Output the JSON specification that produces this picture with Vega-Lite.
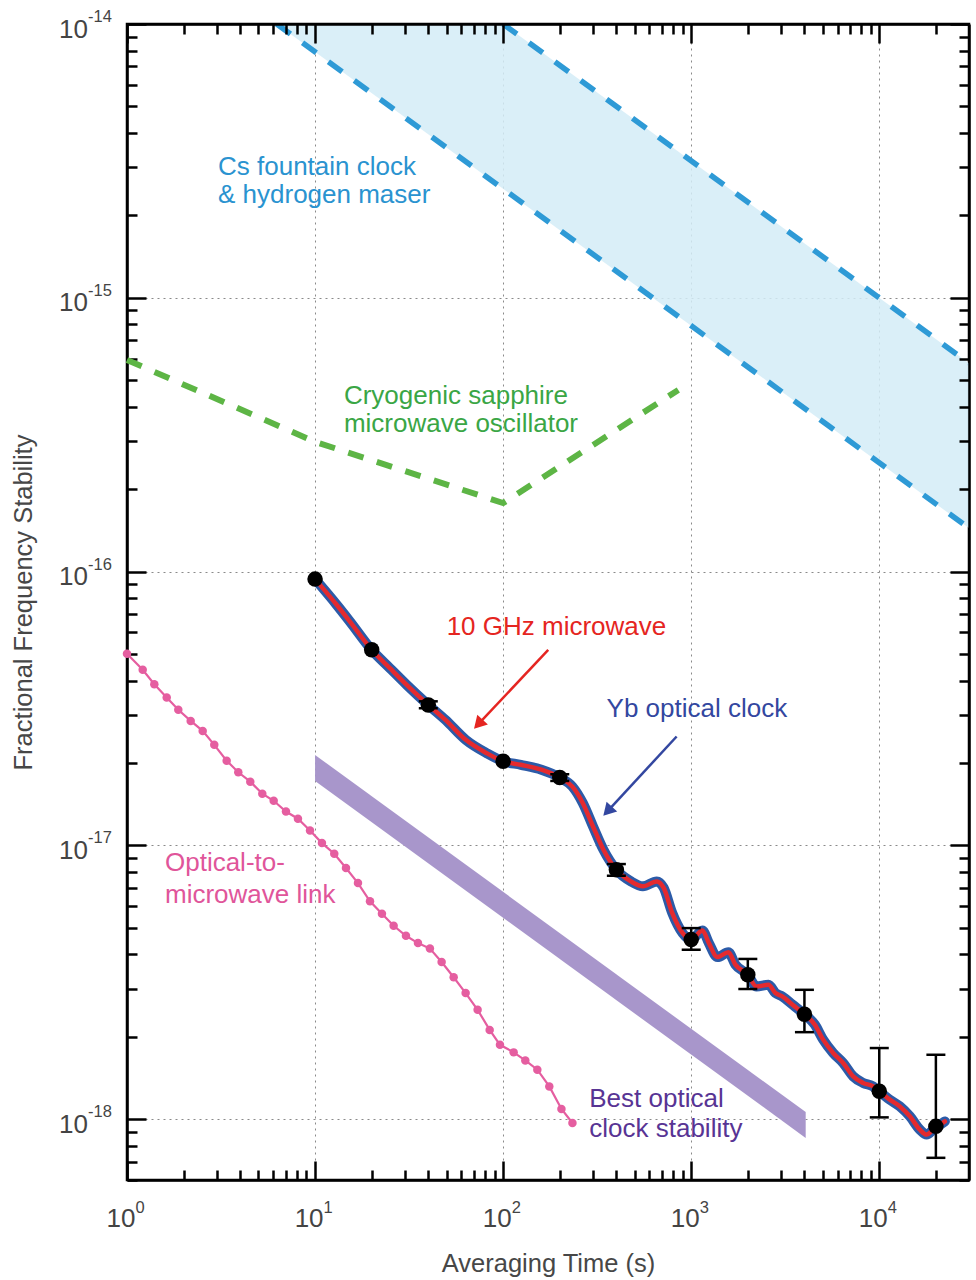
{
  "$schema": "https://vega.github.io/schema/vega-lite/v6.json",
  "width": 842,
  "height": 1156,
  "autosize": {"type": "none"},
  "padding": {"left": 127, "top": 24, "right": 7, "bottom": 100},
  "background": "white",
  "config": {
    "font": "Liberation Sans",
    "view": {"stroke": "black", "strokeWidth": 2.5},
    "axis": {"labels": false, "tickWidth": 2.5, "tickColor": "black", "domainColor": "black", "domainWidth": 2.5}
  },
  "resolve": {"axis": {"x": "independent", "y": "independent"}},
  "datasets": {
    "cs": [
      {"tau": 6.25, "lo": 1e-14, "hi": 1e-14},
      {"tau": 100, "lo": 2.5e-15, "hi": 1e-14},
      {"tau": 30000, "lo": 1.443e-16, "hi": 5.774e-16}
    ],
    "csl": [
      {"k": "lo", "tau": 6.25, "s": 1e-14},
      {"k": "lo", "tau": 30000, "s": 1.443e-16},
      {"k": "hi", "tau": 100, "s": 1e-14},
      {"k": "hi", "tau": 30000, "s": 5.774e-16}
    ],
    "green": [
      {"tau": 1, "s": 5.93e-16},
      {"tau": 10, "s": 2.98e-16},
      {"tau": 100, "s": 1.78e-16},
      {"tau": 854, "s": 4.61e-16}
    ],
    "purple": [
      {"tau": 10, "lo": 1.72e-17, "hi": 2.14e-17},
      {"tau": 4061, "lo": 8.55e-19, "hi": 1.062e-18}
    ],
    "pink": [
      {"tau": 1, "s": 5.01e-17}, {"tau": 1.212, "s": 4.38e-17}, {"tau": 1.397, "s": 3.88e-17},
      {"tau": 1.626, "s": 3.47e-17}, {"tau": 1.874, "s": 3.13e-17}, {"tau": 2.181, "s": 2.85e-17},
      {"tau": 2.526, "s": 2.62e-17}, {"tau": 2.911, "s": 2.33e-17}, {"tau": 3.388, "s": 2.04e-17},
      {"tau": 3.906, "s": 1.85e-17}, {"tau": 4.524, "s": 1.71e-17}, {"tau": 5.241, "s": 1.545e-17},
      {"tau": 6.025, "s": 1.456e-17}, {"tau": 7.003, "s": 1.33e-17}, {"tau": 8.11, "s": 1.252e-17},
      {"tau": 9.4, "s": 1.134e-17}, {"tau": 10.88, "s": 1.02e-17}, {"tau": 12.65, "s": 9.33e-18},
      {"tau": 14.6, "s": 8.27e-18}, {"tau": 16.91, "s": 7.29e-18}, {"tau": 19.59, "s": 6.25e-18},
      {"tau": 22.68, "s": 5.63e-18}, {"tau": 26.17, "s": 5.09e-18}, {"tau": 30.43, "s": 4.68e-18},
      {"tau": 35.25, "s": 4.4e-18}, {"tau": 40.81, "s": 4.2e-18}, {"tau": 47.1, "s": 3.75e-18},
      {"tau": 54.57, "s": 3.3e-18}, {"tau": 63.19, "s": 2.89e-18}, {"tau": 73.17, "s": 2.51e-18},
      {"tau": 84.8, "s": 2.12e-18}, {"tau": 96.2, "s": 1.87e-18}, {"tau": 113.7, "s": 1.755e-18},
      {"tau": 131.2, "s": 1.64e-18}, {"tau": 152, "s": 1.517e-18}, {"tau": 176, "s": 1.318e-18},
      {"tau": 204.2, "s": 1.09e-18}, {"tau": 233.6, "s": 9.69e-19}
    ],
    "curve": [
      {"tau": 10, "s": 9.39e-17}, {"tau": 13.02, "s": 7.57e-17}, {"tau": 15.33, "s": 6.57e-17},
      {"tau": 20, "s": 5.18e-17}, {"tau": 25, "s": 4.44e-17}, {"tau": 30.7, "s": 3.86e-17},
      {"tau": 40, "s": 3.26e-17}, {"tau": 49.2, "s": 2.88e-17}, {"tau": 63.3, "s": 2.43e-17},
      {"tau": 81.5, "s": 2.175e-17}, {"tau": 100, "s": 2.03e-17}, {"tau": 124.2, "s": 1.97e-17},
      {"tau": 159.8, "s": 1.89e-17}, {"tau": 200, "s": 1.77e-17}, {"tau": 233.6, "s": 1.64e-17},
      {"tau": 265, "s": 1.43e-17}, {"tau": 300.6, "s": 1.173e-17}, {"tau": 341.5, "s": 9.645e-18},
      {"tau": 400, "s": 8.15e-18}, {"tau": 478, "s": 7.39e-18}, {"tau": 553.5, "s": 7.09e-18},
      {"tau": 655.6, "s": 7.39e-18}, {"tau": 713.3, "s": 7.01e-18}, {"tau": 792.5, "s": 5.67e-18},
      {"tau": 899, "s": 4.79e-18}, {"tau": 1000, "s": 4.525e-18}, {"tau": 1147, "s": 4.89e-18},
      {"tau": 1242, "s": 4.4e-18}, {"tau": 1378, "s": 3.91e-18}, {"tau": 1577, "s": 4.07e-18},
      {"tau": 1718, "s": 3.67e-18}, {"tau": 2000, "s": 3.37e-18}, {"tau": 2224, "s": 3.055e-18},
      {"tau": 2576, "s": 3.1e-18}, {"tau": 2803, "s": 2.89e-18}, {"tau": 3050, "s": 2.81e-18},
      {"tau": 3460, "s": 2.62e-18}, {"tau": 4000, "s": 2.42e-18}, {"tau": 4546, "s": 2.215e-18},
      {"tau": 5031, "s": 1.953e-18}, {"tau": 5687, "s": 1.747e-18}, {"tau": 6429, "s": 1.605e-18},
      {"tau": 7264, "s": 1.434e-18}, {"tau": 8212, "s": 1.357e-18}, {"tau": 9282, "s": 1.318e-18},
      {"tau": 10000, "s": 1.264e-18}, {"tau": 11385, "s": 1.179e-18}, {"tau": 12870, "s": 1.114e-18},
      {"tau": 14545, "s": 1.025e-18}, {"tau": 16440, "s": 9.16e-19}, {"tau": 17850, "s": 8.79e-19},
      {"tau": 19350, "s": 9.16e-19}, {"tau": 22330, "s": 9.82e-19}
    ],
    "pts": [
      {"tau": 10, "s": 9.39e-17}, {"tau": 20, "s": 5.18e-17}, {"tau": 40, "s": 3.26e-17},
      {"tau": 100, "s": 2.03e-17}, {"tau": 200, "s": 1.77e-17}, {"tau": 400, "s": 8.15e-18},
      {"tau": 1000, "s": 4.53e-18}, {"tau": 2000, "s": 3.37e-18}, {"tau": 4000, "s": 2.42e-18},
      {"tau": 10000, "s": 1.265e-18}, {"tau": 20000, "s": 9.42e-19}
    ],
    "errs": [
      {"tau": 40, "lo": 3.17e-17, "hi": 3.36e-17},
      {"tau": 200, "lo": 1.72e-17, "hi": 1.82e-17},
      {"tau": 400, "lo": 7.75e-18, "hi": 8.55e-18},
      {"tau": 1000, "lo": 4.16e-18, "hi": 4.99e-18},
      {"tau": 2000, "lo": 2.99e-18, "hi": 3.85e-18},
      {"tau": 4000, "lo": 2.08e-18, "hi": 2.97e-18},
      {"tau": 10000, "lo": 1.016e-18, "hi": 1.82e-18},
      {"tau": 20000, "lo": 7.23e-19, "hi": 1.72e-18}
    ],
    "arrows": [
      {"who": "mw", "tau": 173.7, "s": 5.18e-17, "tau2": 75.1, "s2": 2.807e-17},
      {"who": "yb", "tau": 836.5, "s": 2.5e-17, "tau2": 365.6, "s2": 1.351e-17}
    ],
    "texts": [
      {"who": "cs", "tau": 3.047, "s": 2.81e-15, "t": "Cs fountain clock"},
      {"who": "cs", "tau": 3.047, "s": 2.221e-15, "t": "& hydrogen maser"},
      {"who": "cryo", "tau": 14.24, "s": 4.1e-16, "t": "Cryogenic sapphire"},
      {"who": "cryo", "tau": 14.24, "s": 3.239e-16, "t": "microwave oscillator"},
      {"who": "mw", "tau": 50.08, "s": 5.88e-17, "t": "10 GHz microwave"},
      {"who": "yb", "tau": 354.9, "s": 2.942e-17, "t": "Yb optical clock"},
      {"who": "link", "tau": 1.592, "s": 8.04e-18, "t": "Optical-to-"},
      {"who": "link", "tau": 1.592, "s": 6.16e-18, "t": "microwave link"},
      {"who": "best", "tau": 287, "s": 1.109e-18, "t": "Best optical"},
      {"who": "best", "tau": 287, "s": 8.62e-19, "t": "clock stability"}
    ],
    "ylab": [
      {"v": 1e-14, "e": "-14"}, {"v": 1e-15, "e": "-15"}, {"v": 1e-16, "e": "-16"},
      {"v": 1e-17, "e": "-17"}, {"v": 1e-18, "e": "-18"}
    ],
    "xlab": [
      {"v": 1, "e": "0"}, {"v": 10, "e": "1"}, {"v": 100, "e": "2"},
      {"v": 1000, "e": "3"}, {"v": 10000, "e": "4"}
    ]
  },
  "layer": [
    {
      "data": {"name": "cs"},
      "mark": {"type": "area", "color": "#d3ecf7", "opacity": 0.85, "clip": true},
      "encoding": {
        "x": {"field": "tau", "type": "quantitative", "scale": {"type": "log", "domain": [1, 30000]},
          "axis": {"orient": "bottom", "title": "Averaging Time (s)", "titleFontSize": 25.5, "titleFontWeight": "normal", "titleColor": "#474747", "titlePadding": 70,
            "values": [1,2,3,4,5,6,7,8,9,10,20,30,40,50,60,70,80,90,100,200,300,400,500,600,700,800,900,1000,2000,3000,4000,5000,6000,7000,8000,9000,10000,20000],
            "grid": true, "gridColor": "#8a8a8a", "gridDash": [2, 4], "gridWidth": 1,
            "gridOpacity": {"condition": {"test": "abs(log(datum.value)/LN10 - round(log(datum.value)/LN10)) < 0.01", "value": 1}, "value": 0},
            "tickSize": {"condition": {"test": "abs(log(datum.value)/LN10 - round(log(datum.value)/LN10)) < 0.01", "value": -19}, "value": -10}}},
        "y": {"field": "lo", "type": "quantitative", "scale": {"type": "log", "domain": [6e-19, 1e-14]},
          "axis": {"orient": "left", "title": "Fractional Frequency Stability", "titleFontSize": 25.5, "titleFontWeight": "normal", "titleColor": "#474747", "titlePadding": 89,
            "values": [6e-19,7e-19,8e-19,9e-19,1e-18,2e-18,3e-18,4e-18,5e-18,6e-18,7e-18,8e-18,9e-18,1e-17,2e-17,3e-17,4e-17,5e-17,6e-17,7e-17,8e-17,9e-17,1e-16,2e-16,3e-16,4e-16,5e-16,6e-16,7e-16,8e-16,9e-16,1e-15,2e-15,3e-15,4e-15,5e-15,6e-15,7e-15,8e-15,9e-15,1e-14],
            "grid": true, "gridColor": "#8a8a8a", "gridDash": [2, 4], "gridWidth": 1,
            "gridOpacity": {"condition": {"test": "abs(log(datum.value)/LN10 - round(log(datum.value)/LN10)) < 0.01", "value": 1}, "value": 0},
            "tickSize": {"condition": {"test": "abs(log(datum.value)/LN10 - round(log(datum.value)/LN10)) < 0.01", "value": -19}, "value": -10}}},
        "y2": {"field": "hi"}
      }
    },
    {
      "data": {"name": "csl"},
      "mark": {"type": "line", "color": "#2e9ad6", "strokeWidth": 5.5, "strokeDash": [17, 15], "clip": true},
      "encoding": {
        "x": {"field": "tau", "type": "quantitative", "scale": {"type": "log", "domain": [1, 30000]},
          "axis": {"orient": "top", "title": null, "grid": false, "zindex": 1,
            "values": [1,2,3,4,5,6,7,8,9,10,20,30,40,50,60,70,80,90,100,200,300,400,500,600,700,800,900,1000,2000,3000,4000,5000,6000,7000,8000,9000,10000,20000],
            "tickSize": {"condition": {"test": "abs(log(datum.value)/LN10 - round(log(datum.value)/LN10)) < 0.01", "value": -19}, "value": -10}}},
        "y": {"field": "s", "type": "quantitative", "scale": {"type": "log", "domain": [6e-19, 1e-14]},
          "axis": {"orient": "right", "title": null, "grid": false, "zindex": 1,
            "values": [6e-19,7e-19,8e-19,9e-19,1e-18,2e-18,3e-18,4e-18,5e-18,6e-18,7e-18,8e-18,9e-18,1e-17,2e-17,3e-17,4e-17,5e-17,6e-17,7e-17,8e-17,9e-17,1e-16,2e-16,3e-16,4e-16,5e-16,6e-16,7e-16,8e-16,9e-16,1e-15,2e-15,3e-15,4e-15,5e-15,6e-15,7e-15,8e-15,9e-15,1e-14],
            "tickSize": {"condition": {"test": "abs(log(datum.value)/LN10 - round(log(datum.value)/LN10)) < 0.01", "value": -19}, "value": -10}}},
        "detail": {"field": "k"}
      }
    },
    {
      "data": {"name": "green"},
      "mark": {"type": "line", "color": "#5db545", "strokeWidth": 6, "strokeDash": [16, 14]},
      "encoding": {
        "x": {"field": "tau", "type": "quantitative", "scale": {"type": "log", "domain": [1, 30000]}, "axis": null},
        "y": {"field": "s", "type": "quantitative", "scale": {"type": "log", "domain": [6e-19, 1e-14]}, "axis": null}
      }
    },
    {
      "data": {"name": "purple"},
      "mark": {"type": "area", "color": "#a896cb", "opacity": 1},
      "encoding": {
        "x": {"field": "tau", "type": "quantitative", "scale": {"type": "log", "domain": [1, 30000]}, "axis": null},
        "y": {"field": "lo", "type": "quantitative", "scale": {"type": "log", "domain": [6e-19, 1e-14]}, "axis": null},
        "y2": {"field": "hi"}
      }
    },
    {
      "data": {"name": "pink"},
      "mark": {"type": "line", "color": "#e55ea0", "strokeWidth": 2.2},
      "encoding": {
        "x": {"field": "tau", "type": "quantitative", "scale": {"type": "log", "domain": [1, 30000]}, "axis": null},
        "y": {"field": "s", "type": "quantitative", "scale": {"type": "log", "domain": [6e-19, 1e-14]}, "axis": null}
      }
    },
    {
      "data": {"name": "pink"},
      "mark": {"type": "point", "filled": true, "color": "#e55ea0", "size": 72, "opacity": 1},
      "encoding": {
        "x": {"field": "tau", "type": "quantitative", "scale": {"type": "log", "domain": [1, 30000]}, "axis": null},
        "y": {"field": "s", "type": "quantitative", "scale": {"type": "log", "domain": [6e-19, 1e-14]}, "axis": null}
      }
    },
    {
      "data": {"name": "curve"},
      "mark": {"type": "line", "color": "#2c5ba8", "strokeWidth": 10, "interpolate": "monotone", "strokeCap": "round"},
      "encoding": {
        "x": {"field": "tau", "type": "quantitative", "scale": {"type": "log", "domain": [1, 30000]}, "axis": null},
        "y": {"field": "s", "type": "quantitative", "scale": {"type": "log", "domain": [6e-19, 1e-14]}, "axis": null}
      }
    },
    {
      "data": {"name": "curve"},
      "mark": {"type": "line", "color": "#e42a2e", "strokeWidth": 4.5, "interpolate": "monotone", "strokeCap": "round"},
      "encoding": {
        "x": {"field": "tau", "type": "quantitative", "scale": {"type": "log", "domain": [1, 30000]}, "axis": null},
        "y": {"field": "s", "type": "quantitative", "scale": {"type": "log", "domain": [6e-19, 1e-14]}, "axis": null}
      }
    },
    {
      "data": {"name": "errs"},
      "mark": {"type": "rule", "color": "black", "strokeWidth": 2.5},
      "encoding": {
        "x": {"field": "tau", "type": "quantitative", "scale": {"type": "log", "domain": [1, 30000]}, "axis": null},
        "y": {"field": "lo", "type": "quantitative", "scale": {"type": "log", "domain": [6e-19, 1e-14]}, "axis": null},
        "y2": {"field": "hi"}
      }
    },
    {
      "data": {"name": "errs"},
      "mark": {"type": "tick", "color": "black", "orient": "horizontal", "size": 19, "thickness": 2.5, "opacity": 1},
      "encoding": {
        "x": {"field": "tau", "type": "quantitative", "scale": {"type": "log", "domain": [1, 30000]}, "axis": null},
        "y": {"field": "lo", "type": "quantitative", "scale": {"type": "log", "domain": [6e-19, 1e-14]}, "axis": null}
      }
    },
    {
      "data": {"name": "errs"},
      "mark": {"type": "tick", "color": "black", "orient": "horizontal", "size": 19, "thickness": 2.5, "opacity": 1},
      "encoding": {
        "x": {"field": "tau", "type": "quantitative", "scale": {"type": "log", "domain": [1, 30000]}, "axis": null},
        "y": {"field": "hi", "type": "quantitative", "scale": {"type": "log", "domain": [6e-19, 1e-14]}, "axis": null}
      }
    },
    {
      "data": {"name": "pts"},
      "mark": {"type": "point", "filled": true, "color": "black", "size": 240, "opacity": 1},
      "encoding": {
        "x": {"field": "tau", "type": "quantitative", "scale": {"type": "log", "domain": [1, 30000]}, "axis": null},
        "y": {"field": "s", "type": "quantitative", "scale": {"type": "log", "domain": [6e-19, 1e-14]}, "axis": null}
      }
    },
    {
      "data": {"name": "arrows"},
      "mark": {"type": "rule", "strokeWidth": 2.5},
      "encoding": {
        "x": {"field": "tau", "type": "quantitative", "scale": {"type": "log", "domain": [1, 30000]}, "axis": null},
        "y": {"field": "s", "type": "quantitative", "scale": {"type": "log", "domain": [6e-19, 1e-14]}, "axis": null},
        "x2": {"field": "tau2"},
        "y2": {"field": "s2"},
        "color": {"field": "who", "type": "nominal", "legend": null,
          "scale": {"domain": ["cs", "cryo", "mw", "yb", "link", "best"], "range": ["#2a93d0", "#3aa645", "#e52521", "#3347a0", "#e0559a", "#583494"]}}
      }
    },
    {
      "data": {"name": "arrows"},
      "mark": {"type": "point", "shape": "triangle", "filled": true, "size": 210, "angle": 223, "opacity": 1},
      "encoding": {
        "x": {"field": "tau2", "type": "quantitative", "scale": {"type": "log", "domain": [1, 30000]}, "axis": null},
        "y": {"field": "s2", "type": "quantitative", "scale": {"type": "log", "domain": [6e-19, 1e-14]}, "axis": null},
        "color": {"field": "who", "type": "nominal", "legend": null,
          "scale": {"domain": ["cs", "cryo", "mw", "yb", "link", "best"], "range": ["#2a93d0", "#3aa645", "#e52521", "#3347a0", "#e0559a", "#583494"]}}
      }
    },
    {
      "data": {"name": "texts"},
      "mark": {"type": "text", "align": "left", "baseline": "alphabetic", "fontSize": 26},
      "encoding": {
        "x": {"field": "tau", "type": "quantitative", "scale": {"type": "log", "domain": [1, 30000]}, "axis": null},
        "y": {"field": "s", "type": "quantitative", "scale": {"type": "log", "domain": [6e-19, 1e-14]}, "axis": null},
        "text": {"field": "t"},
        "color": {"field": "who", "type": "nominal", "legend": null,
          "scale": {"domain": ["cs", "cryo", "mw", "yb", "link", "best"], "range": ["#2a93d0", "#3aa645", "#e52521", "#3347a0", "#e0559a", "#583494"]}}
      }
    },
    {
      "data": {"name": "ylab"},
      "mark": {"type": "text", "align": "right", "baseline": "alphabetic", "fontSize": 26, "dx": -39, "dy": 13.5, "color": "#444444"},
      "encoding": {
        "x": {"datum": 1, "type": "quantitative", "scale": {"type": "log", "domain": [1, 30000]}, "axis": null},
        "y": {"field": "v", "type": "quantitative", "scale": {"type": "log", "domain": [6e-19, 1e-14]}, "axis": null},
        "text": {"value": "10"}
      }
    },
    {
      "data": {"name": "ylab"},
      "mark": {"type": "text", "align": "left", "baseline": "alphabetic", "fontSize": 16.5, "dx": -39, "dy": -2, "color": "#444444"},
      "encoding": {
        "x": {"datum": 1, "type": "quantitative", "scale": {"type": "log", "domain": [1, 30000]}, "axis": null},
        "y": {"field": "v", "type": "quantitative", "scale": {"type": "log", "domain": [6e-19, 1e-14]}, "axis": null},
        "text": {"field": "e"}
      }
    },
    {
      "data": {"name": "xlab"},
      "mark": {"type": "text", "align": "right", "baseline": "alphabetic", "fontSize": 26, "dx": 8.5, "dy": 46.7, "color": "#444444"},
      "encoding": {
        "x": {"field": "v", "type": "quantitative", "scale": {"type": "log", "domain": [1, 30000]}, "axis": null},
        "y": {"datum": 6e-19, "type": "quantitative", "scale": {"type": "log", "domain": [6e-19, 1e-14]}, "axis": null},
        "text": {"value": "10"}
      }
    },
    {
      "data": {"name": "xlab"},
      "mark": {"type": "text", "align": "left", "baseline": "alphabetic", "fontSize": 16.5, "dx": 8.5, "dy": 32.7, "color": "#444444"},
      "encoding": {
        "x": {"field": "v", "type": "quantitative", "scale": {"type": "log", "domain": [1, 30000]}, "axis": null},
        "y": {"datum": 6e-19, "type": "quantitative", "scale": {"type": "log", "domain": [6e-19, 1e-14]}, "axis": null},
        "text": {"field": "e"}
      }
    }
  ]
}
